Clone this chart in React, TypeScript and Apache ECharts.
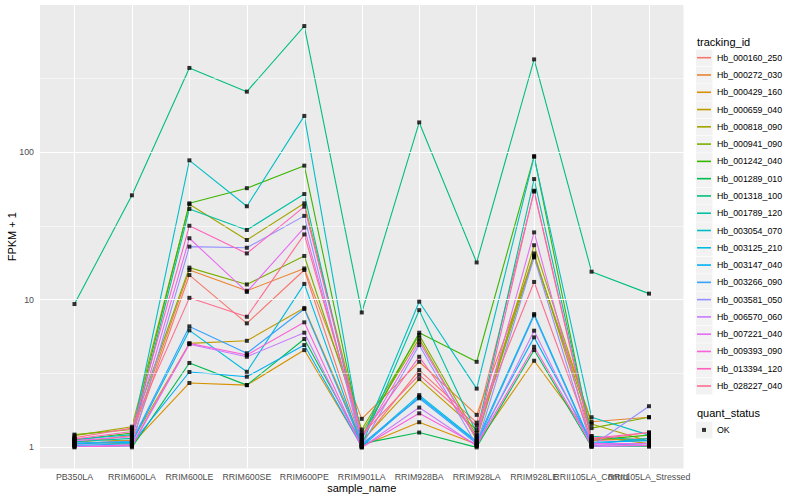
import React, { useEffect, useRef } from "react";
import * as echarts from "echarts";

const categories = [
  "PB350LA", "RRIM600LA", "RRIM600LE", "RRIM600SE", "RRIM600PE", "RRIM901LA",
  "RRIM928BA", "RRIM928LA", "RRIM928LE", "RRII105LA_Control", "RRII105LA_Stressed",
];

const trackingIds = [
  "Hb_000160_250", "Hb_000272_030", "Hb_000429_160", "Hb_000659_040", "Hb_000818_090",
  "Hb_000941_090", "Hb_001242_040", "Hb_001289_010", "Hb_001318_100", "Hb_001789_120",
  "Hb_003054_070", "Hb_003125_210", "Hb_003147_040", "Hb_003266_090", "Hb_003581_050",
  "Hb_006570_060", "Hb_007221_040", "Hb_009393_090", "Hb_013394_120", "Hb_028227_040",
];

const trackingColors = [
  "#F8766D", "#EA8331", "#D89000", "#C09B00", "#A3A500", "#7CAE00", "#39B600", "#00BB4E",
  "#00BF7D", "#00C1A3", "#00BFC4", "#00BAE0", "#00B0F6", "#35A2FF", "#9590FF", "#C77CFF",
  "#E76BF3", "#FA62DB", "#FF62BC", "#FF6C91",
];

// FPKM + 1, one value per sample (same order as categories)
const Hb_000160_250 = [1.05, 1.12, 14.7, 6.92, 15.9, 1.08, 3.34, 1.47, 54.0, 1.11, 1.15];
const Hb_000272_030 = [1.08, 1.2, 15.9, 11.5, 16.3, 1.56, 3.8, 1.66, 19.4, 1.49, 1.6];
const Hb_000429_160 = [1.1, 1.05, 2.73, 2.64, 4.56, 1.02, 1.48, 1.05, 3.86, 1.15, 1.11];
const Hb_000659_040 = [1.15, 1.1, 5.06, 5.27, 8.8, 1.1, 2.9, 1.31, 20.6, 1.19, 1.06];
const Hb_000818_090 = [1.2, 1.38, 44.3, 25.4, 45.0, 1.26, 5.47, 1.12, 23.4, 1.44, 1.1];
const Hb_000941_090 = [1.22, 1.32, 16.5, 12.7, 19.8, 1.32, 5.77, 1.2, 19.9, 1.35, 1.6];
const Hb_001242_040 = [1.12, 1.25, 45.0, 57.0, 81.0, 1.18, 5.98, 3.8, 94.0, 1.12, 1.21];
const Hb_001289_010 = [1.02, 1.0, 3.73, 2.64, 5.42, 1.06, 1.26, 1.0, 4.56, 1.01, 1.01];
const Hb_001318_100 = [9.35, 51.0, 372.0, 257.0, 715.0, 8.2, 159.0, 17.9, 425.0, 15.5, 11.0];
const Hb_001789_120 = [1.09, 1.15, 41.2, 29.7, 52.0, 1.04, 8.5, 1.25, 65.7, 1.19, 1.11];
const Hb_003054_070 = [1.13, 1.22, 88.0, 43.0, 176.0, 1.12, 9.7, 2.5, 93.0, 1.6, 1.21];
const Hb_003125_210 = [1.06, 1.08, 6.2, 3.25, 12.8, 1.03, 2.26, 1.1, 8.0, 1.05, 1.15];
const Hb_003147_040 = [1.03, 1.06, 3.24, 3.01, 4.93, 1.01, 2.2, 1.08, 5.56, 1.08, 1.11];
const Hb_003266_090 = [1.07, 1.1, 6.6, 4.34, 8.65, 1.05, 2.15, 1.06, 7.83, 1.03, 1.06];
const Hb_003581_050 = [1.04, 1.03, 22.9, 22.5, 37.0, 1.02, 4.93, 1.03, 19.4, 1.02, 1.9];
const Hb_006570_060 = [1.01, 1.02, 5.0, 4.11, 5.98, 1.0, 1.86, 1.02, 6.17, 1.01, 1.03];
const Hb_007221_040 = [1.11, 1.18, 26.1, 11.3, 30.8, 1.14, 5.2, 1.15, 28.6, 1.06, 1.06];
const Hb_009393_090 = [1.0, 1.04, 5.06, 4.22, 7.03, 1.0, 1.7, 1.04, 4.8, 1.04, 1.03];
const Hb_013394_120 = [1.14, 1.28, 31.7, 20.6, 42.7, 1.2, 4.11, 1.18, 54.8, 1.15, 1.26];
const Hb_028227_040 = [1.16, 1.35, 10.3, 7.67, 27.7, 1.22, 3.1, 1.4, 13.2, 1.12, 1.26];

const fpkmSeries = [
  Hb_000160_250, Hb_000272_030, Hb_000429_160, Hb_000659_040, Hb_000818_090,
  Hb_000941_090, Hb_001242_040, Hb_001289_010, Hb_001318_100, Hb_001789_120,
  Hb_003054_070, Hb_003125_210, Hb_003147_040, Hb_003266_090, Hb_003581_050,
  Hb_006570_060, Hb_007221_040, Hb_009393_090, Hb_013394_120, Hb_028227_040,
];

const yTicks = [1, 10, 100];
const yMin = 0.72;
const yMax = 993;

const FONT = "Liberation Sans, Arial, Helvetica, sans-serif";

export default function App() {
  const ref = useRef<HTMLDivElement>(null);

  useEffect(() => {
    if (!ref.current) return;
    const chart = echarts.init(ref.current, undefined, { renderer: "svg" });

    const catIdx = categories.map((_, i) => i);
    const xMin = -0.6;
    const xMax = categories.length - 1 + 0.6;
    const yMinor = yTicks.map((t) => t * Math.sqrt(10));

    const lineSeries = trackingIds.map((name, k) => ({
      name,
      type: "line",
      xAxisIndex: 0,
      yAxisIndex: 1,
      data: fpkmSeries[k].map((v, i) => [i, v]),
      symbol: "none",
      lineStyle: { color: trackingColors[k], width: 1.1 },
      itemStyle: { color: trackingColors[k] },
      emphasis: { disabled: true },
      z: 3,
    }));

    const points: number[][] = [];
    fpkmSeries.forEach((vals) => vals.forEach((v, i) => points.push([i, v])));

    const keyLine = "path://M0,0M16,17M1,7.7L15,7.7L15,9.3L1,9.3Z";
    const keyPoint = "path://M0,0M16,17M6,6.5L10,6.5L10,10.5L6,10.5Z";

    const legendLeft = 696;
    const legendTop = 49.2;
    const legendStep = 17.28;
    const okTop = 421.4;

    const keyRects: any[] = trackingIds.map((_, k) => ({
      type: "rect",
      shape: { x: legendLeft, y: legendTop + k * legendStep + 0.3, width: 16.5, height: 16.7 },
      style: { fill: "#F2F2F2" },
      z: 0,
    }));
    keyRects.push({
      type: "rect",
      shape: { x: legendLeft, y: okTop + 0.3, width: 16.5, height: 16.7 },
      style: { fill: "#F2F2F2" },
      z: 0,
    });

    const option: any = {
      animation: false,
      backgroundColor: "#FFFFFF",
      grid: {
        left: 40,
        top: 5,
        right: 116.5,
        bottom: 31.6,
        show: true,
        backgroundColor: "#EBEBEB",
        borderWidth: 0,
      },
      xAxis: [
        {
          type: "value",
          min: xMin,
          max: xMax,
          axisLine: { show: false },
          splitLine: { show: false },
          axisTick: {
            show: true,
            length: 3,
            lineStyle: { color: "#333333", width: 1 },
            customValues: catIdx,
          },
          axisLabel: {
            show: true,
            // trailing empty label at the axis end keeps ECharts from hiding overlapping end labels
            customValues: [...catIdx, xMax],
            formatter: (v: number) =>
              Number.isInteger(v) ? categories[v] ?? "" : "",
            fontSize: 8.8,
            color: "#4D4D4D",
            fontFamily: FONT,
            margin: 4,
            hideOverlap: false,
            showMinLabel: true,
            showMaxLabel: false,
          },
        },
      ],
      yAxis: [
        {
          type: "value",
          position: "left",
          min: Math.log10(yMin),
          max: Math.log10(yMax),
          axisLine: { show: false },
          splitLine: { show: false },
          axisTick: {
            show: true,
            length: 3,
            lineStyle: { color: "#333333", width: 1 },
            customValues: yTicks.map((t) => Math.log10(t)),
          },
          axisLabel: {
            show: true,
            customValues: yTicks.map((t) => Math.log10(t)),
            formatter: (v: number) => String(Math.round(Math.pow(10, v))),
            fontSize: 8.8,
            color: "#4D4D4D",
            fontFamily: FONT,
            margin: 6,
            showMinLabel: true,
            showMaxLabel: true,
          },
        },
        {
          type: "log",
          logBase: 10,
          position: "right",
          min: yMin,
          max: yMax,
          show: false,
          splitLine: { show: false },
        },
      ],
      legend: [
        {
          orient: "vertical",
          left: legendLeft,
          top: legendTop,
          padding: 0,
          itemWidth: 16,
          itemHeight: 17,
          itemGap: legendStep - 17,
          selectedMode: false,
          textStyle: { fontSize: 8.8, color: "#000000", fontFamily: FONT },
          data: trackingIds.map((name, k) => ({
            name,
            icon: keyLine,
            itemStyle: { color: trackingColors[k] },
          })),
        },
        {
          orient: "vertical",
          left: legendLeft,
          top: okTop,
          padding: 0,
          itemWidth: 16,
          itemHeight: 17,
          selectedMode: false,
          textStyle: { fontSize: 8.8, color: "#000000", fontFamily: FONT },
          data: [{ name: "OK", icon: keyPoint, itemStyle: { color: "#000000" } }],
        },
      ],
      graphic: [
        ...keyRects,
        {
          type: "text",
          x: 697,
          y: 42,
          style: { text: "tracking_id", font: `11px ${FONT}`, fill: "#000000", verticalAlign: "middle" },
        },
        {
          type: "text",
          x: 697,
          y: 412.7,
          style: { text: "quant_status", font: `11px ${FONT}`, fill: "#000000", verticalAlign: "middle" },
        },
        {
          type: "text",
          x: 361.7,
          y: 488,
          style: { text: "sample_name", font: `11px ${FONT}`, fill: "#000000", align: "center", verticalAlign: "middle" },
        },
        {
          type: "text",
          x: 12,
          y: 236.7,
          rotation: Math.PI / 2,
          style: { text: "FPKM + 1", font: `11px ${FONT}`, fill: "#000000", align: "center", verticalAlign: "middle" },
        },
      ],
      series: [
        {
          name: "__grid",
          type: "line",
          xAxisIndex: 0,
          yAxisIndex: 1,
          data: [],
          silent: true,
          z: 1,
          markLine: {
            silent: true,
            symbol: ["none", "none"],
            label: { show: false },
            animation: false,
            lineStyle: { type: "solid", color: "#FFFFFF", width: 1.1 },
            emphasis: { disabled: true },
            data: [
              ...yMinor.map((v) => ({ yAxis: v, lineStyle: { type: "solid", color: "#FFFFFF", width: 0.55 } })),
              ...yTicks.map((v) => ({ yAxis: v, lineStyle: { type: "solid", color: "#FFFFFF", width: 1.1 } })),
              ...catIdx.map((i) => ({ xAxis: i, lineStyle: { type: "solid", color: "#FFFFFF", width: 1.1 } })),
            ],
          },
        },
        ...lineSeries,
        {
          name: "OK",
          type: "scatter",
          xAxisIndex: 0,
          yAxisIndex: 1,
          data: points,
          symbol: "rect",
          symbolSize: 4,
          itemStyle: { color: "#000000" },
          emphasis: { disabled: true },
          z: 5,
        },
      ],
    };

    chart.setOption(option);
    return () => chart.dispose();
  }, []);

  return (
    <div
      ref={ref}
      style={{ position: "absolute", left: 0, top: 0, width: 800, height: 500 }}
    />
  );
}
